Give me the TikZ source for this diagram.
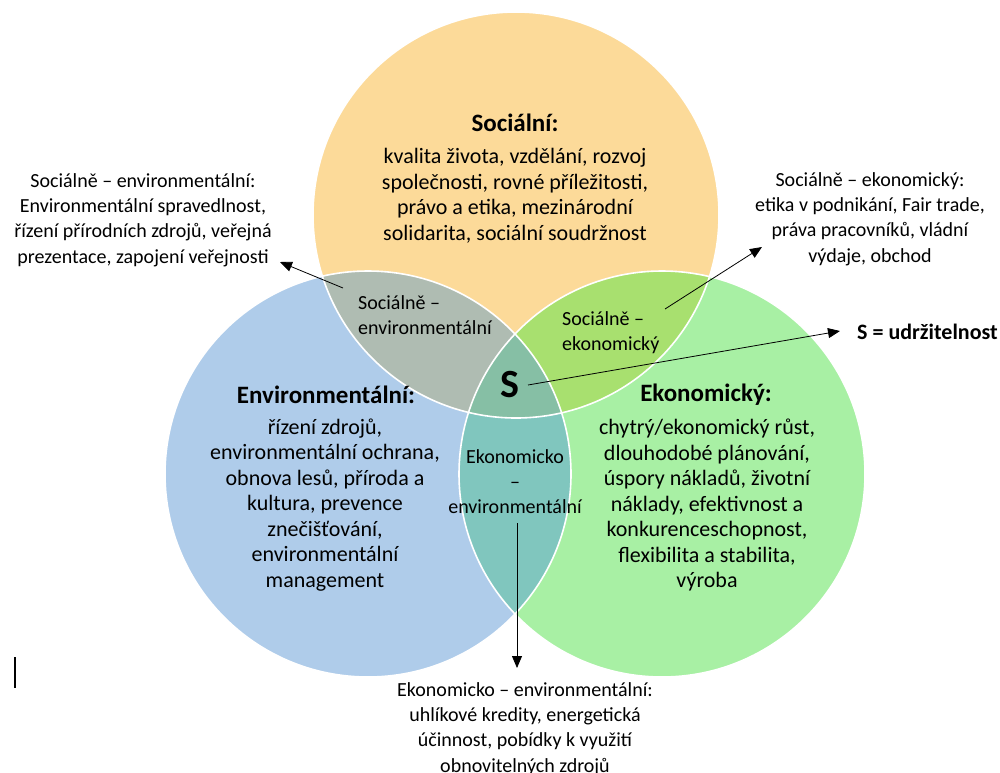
\documentclass[tikz,border=0pt]{standalone}
\usepackage{fontspec}
\setmainfont{Carlito}
\usetikzlibrary{arrows.meta}
\definecolor{cOr}{HTML}{FCDA99}
\definecolor{cBl}{HTML}{AFCCEA}
\definecolor{cGr}{HTML}{A8F0A4}
\definecolor{cOB}{HTML}{AFBCB2}
\definecolor{cOG}{HTML}{A8E06F}
\definecolor{cBG}{HTML}{80C6BE}
\definecolor{cAll}{HTML}{86BFA5}
\begin{document}
\begin{tikzpicture}[x=1pt,y=-1pt,
  body/.style={align=center, inner sep=0pt, font=\fontsize{22}{25.5}\selectfont},
  note/.style={align=center, inner sep=0pt, font=\fontsize{20}{25.3}\selectfont},
  lens/.style={inner sep=0pt, font=\fontsize{20}{25}\selectfont},
  ttl/.style={inner sep=0pt, font=\fontsize{25}{30}\selectfont\bfseries},
  conn/.style={line width=0.8pt, -{Triangle[length=12pt,width=10pt]}},
  rim/.style={draw=white, line width=1.6pt}]
\useasboundingbox (0,0) rectangle (1000,772);
% circles
\coordinate (cT) at (516,215);
\coordinate (cL) at (368,474);
\coordinate (cR) at (662,474);
\fill[cOr] (cT) circle[radius=203pt];
\fill[cBl] (cL) circle[radius=203pt];
\fill[cGr] (cR) circle[radius=203pt];
\begin{scope}
  \clip (cT) circle[radius=203pt];
  \fill[cOB] (cL) circle[radius=203pt];
  \fill[cOG] (cR) circle[radius=203pt];
  \clip (cL) circle[radius=203pt];
  \fill[cAll] (cR) circle[radius=203pt];
\end{scope}
\begin{scope}
  \clip (cL) circle[radius=203pt];
  \clip (cR) circle[radius=203pt];
  \fill[cBG] (cR) circle[radius=203pt];
  \clip (cT) circle[radius=203pt];
  \fill[cAll] (cR) circle[radius=203pt];
\end{scope}
\draw[rim] (cT) circle[radius=203pt];
\draw[rim] (cL) circle[radius=203pt];
\draw[rim] (cR) circle[radius=203pt];

% texts
\node[ttl] (socT) at (515,123) {Sociální:};
\node[body] (socB) at (515,196) {kvalita života, vzdělání, rozvoj\\společnosti, rovné příležitosti,\\právo a etika, mezinárodní\\solidarita, sociální soudržnost};
\node[ttl] (envT) at (326,395) {Environmentální:};
\node[body] (envB) at (325,505) {řízení zdrojů,\\environmentální ochrana,\\obnova lesů, příroda a\\kultura, prevence\\znečišťování,\\environmentální\\management};
\node[ttl] (ekoT) at (706,395) {Ekonomický:};
\node[body] (ekoB) at (707,505) {chytrý/ekonomický růst,\\dlouhodobé plánování,\\úspory nákladů, životní\\náklady, efektivnost a\\konkurenceschopnost,\\flexibilita a stabilita,\\výroba};
\node[lens, align=left, anchor=west] (lSE) at (358,315.5) {Sociálně –\\environmentální};
\node[lens, align=left, anchor=west] (lSK) at (562,332.5) {Sociálně –\\ekonomický};
\node[lens, align=center] (lKE) at (515,482) {Ekonomicko\\–\\environmentální};
\node[inner sep=0pt, font=\fontsize{40}{40}\selectfont\bfseries] (S) at (510,385) {S};
\node[inner sep=0pt, anchor=west, font=\fontsize{22}{25}\selectfont\bfseries] (Sdef) at (857,332) {S = udržitelnost};
\node[note] (nSE) at (143,220) {Sociálně – environmentální:\\Environmentální spravedlnost,\\řízení přírodních zdrojů, veřejná\\prezentace, zapojení veřejnosti};
\node[note] (nSK) at (870,219) {Sociálně – ekonomický:\\etika v podnikání, Fair trade,\\práva pracovníků, vládní\\výdaje, obchod};
\node[note] (nKE) at (525,729) {Ekonomicko – environmentální:\\uhlíkové kredity, energetická\\účinnost, pobídky k využití\\obnovitelných zdrojů};

% connectors
\coordinate (aSE) at (343,288);
\coordinate (tSE) at (280,262);
\draw[conn] (aSE) -- (tSE);
\coordinate (aSK) at (665,309);
\coordinate (tSK) at (762,247);
\draw[conn] (aSK) -- (tSK);
\coordinate (aS) at (528,385);
\coordinate (tS) at (840,331);
\draw[conn] (aS) -- (tS);
\coordinate (aKE) at (517,523);
\coordinate (tKE) at (517,668);
\draw[conn] (aKE) -- (tKE);

% cursor mark
\draw[line width=1.2pt] (15,657) -- (15,688);
\end{tikzpicture}
\end{document}
